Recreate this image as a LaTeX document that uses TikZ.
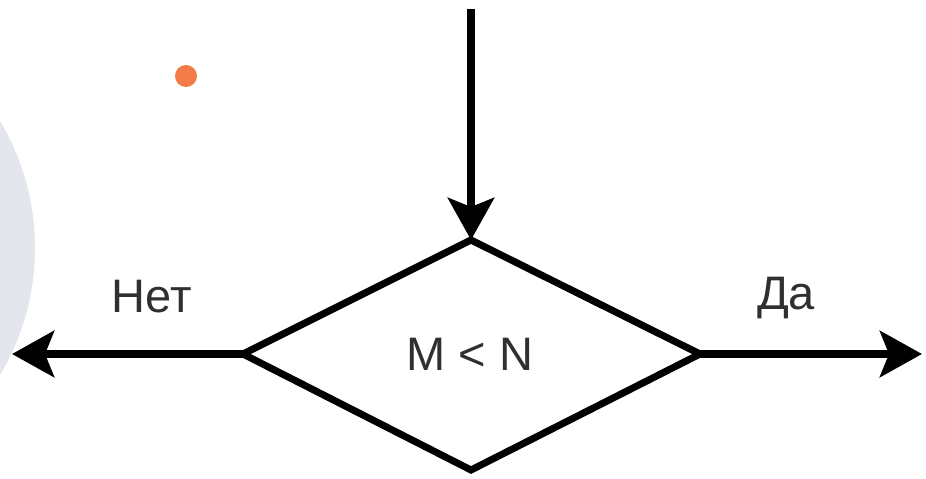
\documentclass[tikz,border=0pt]{standalone}
\usepackage{fontspec}
\setmainfont{Liberation Sans}
\usetikzlibrary{arrows.meta,shapes.geometric}
\definecolor{bgdisc}{HTML}{E3E6EC}
\definecolor{dotorange}{HTML}{F47C48}
\definecolor{labelgrey}{HTML}{303030}
\tikzset{
  flow/.style={line width=8pt, -{Stealth[length=42pt,width=46pt,inset=9pt]}},
  decision/.style={draw, line width=7pt, line join=miter, fill=white},
  lbl/.style={font=\fontsize{47}{56}\selectfont, text=labelgrey, inner sep=0pt}
}
\begin{document}
\begin{tikzpicture}[x=1pt,y=-1pt]
  \useasboundingbox (0,0) rectangle (926,479);
  % background disc and accent dot
  \fill[bgdisc] (-213,248) circle[radius=248];
  \fill[dotorange] (186,76) circle[radius=11];
  % decision diamond
  \draw[decision] (243,354) -- (471,240) -- (700,354) -- (471,470) -- cycle;
  \coordinate (dl) at (243,354);
  \coordinate (dr) at (700,354);
  \coordinate (dt) at (471,240);
  \coordinate (entry) at (471,9);
  \coordinate (noend) at (12,354);
  \coordinate (yesend) at (922,354);
  \node[lbl] (cond) at (470,354) {M < N};
  % connectors
  \draw[flow] (entry) -- (dt);
  \draw[flow] (dl) -- (noend);
  \draw[flow] (dr) -- (yesend);
  % branch labels
  \node[lbl] (no) at (152,297) {Нет};
  \node[lbl] (yes) at (786,298) {Да};
\end{tikzpicture}
\end{document}
